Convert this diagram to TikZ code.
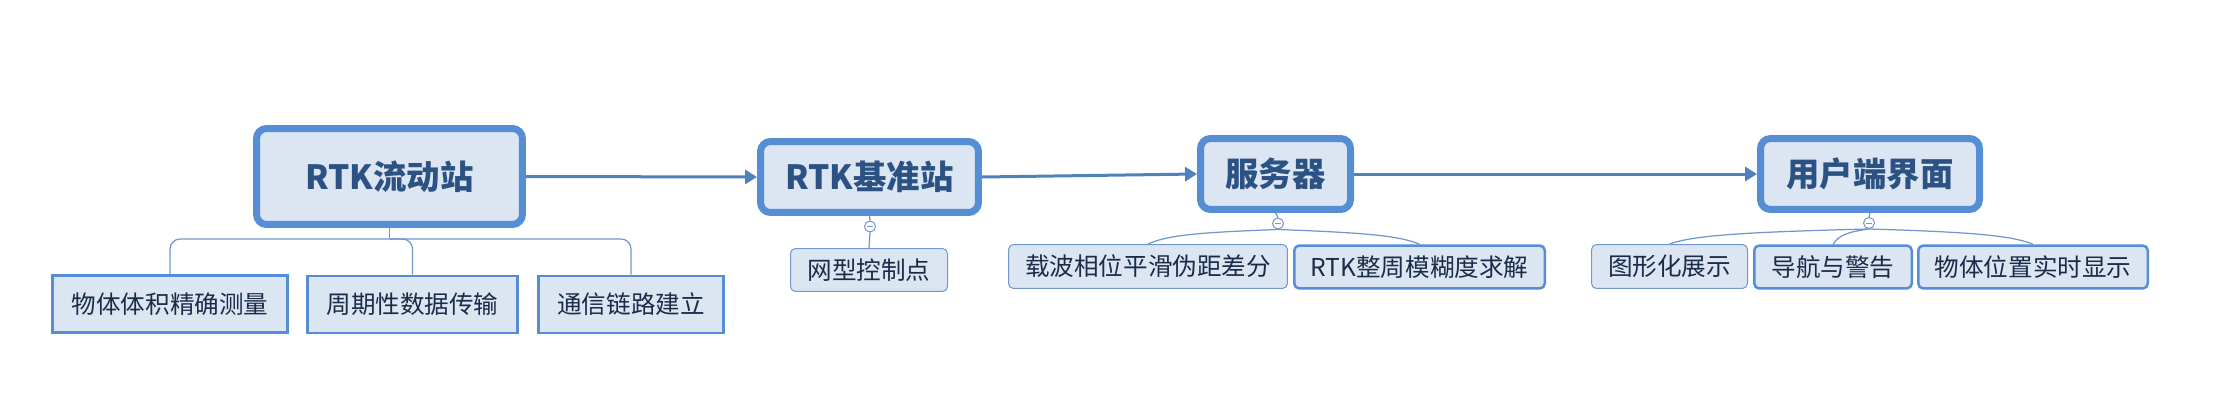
\documentclass[tikz,border=0pt]{standalone}
\usepackage{fontspec}
\setmainfont{Noto Sans CJK SC}
\usepackage{tikz}
\usetikzlibrary{arrows.meta,shapes}
\definecolor{bord}{RGB}{85,142,213}
\definecolor{fond}{RGB}{220,230,242}
\definecolor{titre}{RGB}{44,82,132}
\definecolor{encre}{RGB}{26,44,72}
\definecolor{trait}{RGB}{112,152,205}
\definecolor{fleche}{RGB}{79,129,189}
\tikzstyle{central}=[draw=bord, line width=0.14cm, fill=fond, rounded corners=0.2cm, inner sep=0pt, text=titre, font=\fontsize{19}{19}\selectfont\bfseries]
\tikzstyle{branche}=[draw=bord, line width=0.05cm, fill=fond, inner sep=0pt, minimum height=1.15cm, text=encre, font=\fontsize{14}{14}\selectfont]
\tikzstyle{feuille}=[draw=trait, line width=0.02cm, fill=fond, rounded corners=0.1cm, inner sep=0pt, minimum height=0.86cm, text=encre, font=\fontsize{14}{14}\selectfont]
\tikzstyle{feuillefort}=[feuille, draw=bord, line width=0.05cm]
\tikzstyle{repli}=[circle, draw=trait, line width=0.02cm, fill=white, minimum size=0.22cm, inner sep=0pt]
\tikzstyle{lien}=[draw=trait, line width=0.025cm]
\tikzstyle{liaison}=[draw=fleche, line width=0.06cm, -{Triangle[length=0.24cm,width=0.28cm]}]

\begin{document}
\begin{tikzpicture}[x=0.02cm, y=-0.02cm]
\useasboundingbox (0,0) rectangle (2226,412);

% sujets
\node[central, minimum width=5.32cm, minimum height=1.92cm] (mobile) at (389.5,176.5) {RTK流动站};
\node[central, minimum width=4.36cm, minimum height=1.42cm] (base) at (869.5,177) {RTK基准站};
\node[central, minimum width=3.00cm, minimum height=1.42cm] (serveur) at (1275.5,174) {服务器};
\node[central, minimum width=4.38cm, minimum height=1.42cm] (client) at (1870,174) {用户端界面};

% liaisons
\draw[liaison] (mobile.east) -- (base.west);
\draw[liaison] (base.east) -- (serveur.west);
\draw[liaison] (serveur.east) -- (client.west);

% sous-sujets du mobile
\node[branche, minimum width=4.71cm] (m1) at (170,304) {物体体积精确测量};
\node[branche, minimum width=4.21cm] (m2) at (412.5,304.5) {周期性数据传输};
\node[branche, minimum width=3.71cm] (m3) at (631,304.5) {通信链路建立};
\coordinate (mj) at (389.5,239);
\draw[lien] (mobile.south) -- (mj);
\foreach \m in {m1,m2,m3}
    \draw[lien, rounded corners=0.2cm] (mj) -| (\m.north);

% sous-sujets de la base
\node[repli] (bc) at (870,226.5) {};
\node[feuille, minimum width=3.14cm] (b1) at (869,270) {网型控制点};
\draw[lien] (base.south) -- (bc.north);
\draw[lien] (bc.south) -- (b1.north);

% sous-sujets du serveur
\node[repli] (sc) at (1278,223.5) {};
\node[feuille, minimum width=5.58cm, minimum height=0.88cm] (s1) at (1148,266.5) {载波相位平滑伪距差分};
\node[feuillefort, minimum width=5.01cm] (s2) at (1419.5,267) {RTK整周模糊度求解};
\draw[lien] (serveur.south) -- (sc.north);
\draw[lien] (sc.south) .. controls +(-80,3) and +(20,-9) .. (s1.north);
\draw[lien] (sc.south) .. controls +(80,3) and +(-20,-9) .. (s2.north);

% sous-sujets du client
\node[repli] (uc) at (1869,223) {};
\node[feuille, minimum width=3.12cm, minimum height=0.88cm] (u1) at (1669.5,266.5) {图形化展示};
\node[feuillefort, minimum width=3.15cm] (u2) at (1833,267) {导航与警告};
\node[feuillefort, minimum width=4.59cm] (u3) at (2033,267) {物体位置实时显示};
\draw[lien] (client.south) -- (uc.north);
\draw[lien] (uc.south) .. controls +(-120,3) and +(25,-9) .. (u1.north);
\draw[lien] (uc.south) .. controls +(-22,3) and +(6,-9) .. (u2.north);
\draw[lien] (uc.south) .. controls +(100,3) and +(-22,-9) .. (u3.north);

% signes moins
\foreach \c in {bc,sc,uc}
    \draw[trait, line width=0.02cm] ([xshift=-0.06cm]\c.center) -- ([xshift=0.06cm]\c.center);

\end{tikzpicture}
\end{document}
